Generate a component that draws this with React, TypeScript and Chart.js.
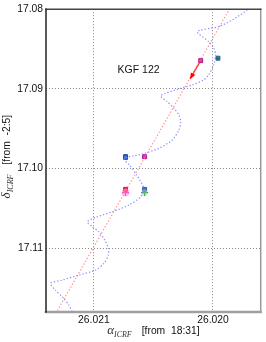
import React, { useEffect, useRef } from 'react';
import { Chart, registerables } from 'chart.js';

Chart.register(...registerables);

// Axis ranges and ticks
const X_TICKS = [26.021, 26.02];
const Y_TICKS = [17.08, 17.09, 17.1, 17.11];
const X_MIN = 26.019599;
const X_MAX = 26.021402;
const Y_MIN = 17.08;
const Y_MAX = 17.118;

// Parallax + proper motion path (blue dotted)
const PATH_RA = [
  26.019675, 26.019711, 26.019837, 26.019952, 26.020131, 26.020036, 26.019994, 26.019977,
  26.019994, 26.020036, 26.020078, 26.020173, 26.020288, 26.020398, 26.02044, 26.020383,
  26.020328, 26.020286, 26.020271, 26.020286, 26.020341, 26.020454, 26.020593, 26.020719,
  26.020748, 26.0207, 26.020641, 26.020582, 26.020608, 26.020706, 26.020845, 26.020986,
  26.021055, 26.021013, 26.020958, 26.020908, 26.020879, 26.020879, 26.020916, 26.020986,
  26.021126, 26.021266, 26.021364, 26.021322, 26.021252, 26.02121, 26.021182, 26.021162,
];
const PATH_DEC = [
  17.07946, 17.08009, 17.08134, 17.08219, 17.08281, 17.08407, 17.08486, 17.08574,
  17.087, 17.08825, 17.08888, 17.08951, 17.09001, 17.09055, 17.09089, 17.09161,
  17.09243, 17.09328, 17.09412, 17.09516, 17.09642, 17.09746, 17.09817, 17.09859,
  17.0988, 17.09956, 17.10081, 17.10245, 17.10354, 17.10458, 17.10542, 17.10613,
  17.10668, 17.10731, 17.10793, 17.10898, 17.11002, 17.11086, 17.1119, 17.11274,
  17.11337, 17.114, 17.11441, 17.11526, 17.1163, 17.11714, 17.11798, 17.11877,
];

// Proper motion line (red dotted)
const MOTION_RA = [26.019817, 26.021352];
const MOTION_DEC = [17.07883, 17.11902];

// Observed positions
const MAG_SQ_RA = [26.020103, 26.020574];
const MAG_SQ_DEC = [17.08646, 17.09851];
const GREEN_SQ_RA = [26.019958, 26.020734];
const GREEN_SQ_DEC = [17.08615, 17.09849];
const BLUE_SQ_RA = [26.020734, 26.020574];
const BLUE_SQ_DEC = [17.09861, 17.10261];
const RED_SQ_RA = [26.020734];
const RED_SQ_DEC = [17.10261];
const MAG_CROSS_RA = [26.020734];
const MAG_CROSS_DEC = [17.10301];
const GREEN_CROSS_RA = [26.020574];
const GREEN_CROSS_DEC = [17.10301];

// Arrow (solid red)
const ARROW_RA = [26.020103, 26.020192];
const ARROW_DEC = [17.08646, 17.08875];

// Annotation
const LABEL_TEXT = 'KGF 122';
const LABEL_RA = 26.020801;
const LABEL_DEC = 17.08763;

const X_SYMBOL = 'α';
const Y_SYMBOL = 'δ';
const SUB = 'ICRF';
const X_FROM = '[from  18:31]';
const Y_FROM = '[from  -2:5]';

const SANS = '"Liberation Sans", Arial, Helvetica, sans-serif';
const SERIF = '"Liberation Serif", "DejaVu Serif", serif';

const pts = (xs: number[], ys: number[]) => xs.map((x, i) => ({ x, y: ys[i] }));

const drawTitle = (ctx: CanvasRenderingContext2D, sym: string, from: string) => {
  // draws at origin, centered horizontally, baseline at 0
  ctx.font = `italic 13px ${SERIF}`;
  const wSym = ctx.measureText(sym).width;
  ctx.font = `italic 8px ${SERIF}`;
  const wSub = ctx.measureText(SUB).width;
  ctx.font = `10.3px ${SANS}`;
  const wFrom = ctx.measureText(from).width;
  const gap = 10;
  const total = wSym + wSub + gap + wFrom;
  let x = -total / 2;
  ctx.fillStyle = '#222';
  ctx.textAlign = 'left';
  ctx.textBaseline = 'alphabetic';
  ctx.font = `italic 13px ${SERIF}`;
  ctx.fillStyle = '#333';
  ctx.fillText(sym, x, 0);
  x += wSym;
  ctx.font = `italic 8px ${SERIF}`;
  ctx.fillText(SUB, x, 3);
  x += wSub + gap;
  ctx.font = `10.3px ${SANS}`;
  ctx.fillStyle = '#111';
  ctx.fillText(from, x, 0);
};

const decorPlugin = {
  id: 'decor',
  afterDatasetsDraw(chart: any) {
    const { ctx, scales } = chart;
    const xs = scales.x;
    const ys = scales.y;
    // arrowhead
    const x0 = xs.getPixelForValue(ARROW_RA[0]);
    const y0 = ys.getPixelForValue(ARROW_DEC[0]);
    const x1 = xs.getPixelForValue(ARROW_RA[1]);
    const y1 = ys.getPixelForValue(ARROW_DEC[1]);
    const ang = Math.atan2(y1 - y0, x1 - x0);
    const L = 6;
    const W = 2.6;
    ctx.save();
    ctx.fillStyle = '#ff0000';
    ctx.beginPath();
    ctx.moveTo(x1, y1);
    ctx.lineTo(x1 - L * Math.cos(ang) + W * Math.sin(ang), y1 - L * Math.sin(ang) - W * Math.cos(ang));
    ctx.lineTo(x1 - L * Math.cos(ang) - W * Math.sin(ang), y1 - L * Math.sin(ang) + W * Math.cos(ang));
    ctx.closePath();
    ctx.fill();
    // label
    ctx.fillStyle = '#111';
    ctx.font = `10.5px ${SANS}`;
    ctx.textAlign = 'left';
    ctx.textBaseline = 'middle';
    ctx.fillText(LABEL_TEXT, xs.getPixelForValue(LABEL_RA), ys.getPixelForValue(LABEL_DEC));
    ctx.restore();
  },
  afterDraw(chart: any) {
    const { ctx, chartArea: a } = chart;
    ctx.save();
    // frame
    ctx.lineCap = 'square';
    ctx.strokeStyle = '#999';
    ctx.lineWidth = 1.5;
    ctx.beginPath();
    ctx.moveTo(a.right, a.top);
    ctx.lineTo(a.right, a.bottom);
    ctx.stroke();
    ctx.strokeStyle = '#a0a0a0';
    ctx.lineWidth = 2.5;
    ctx.beginPath();
    ctx.moveTo(a.left, a.bottom);
    ctx.lineTo(a.right, a.bottom);
    ctx.stroke();
    ctx.strokeStyle = '#444';
    ctx.lineWidth = 1.5;
    ctx.beginPath();
    ctx.moveTo(a.left, a.top);
    ctx.lineTo(a.right, a.top);
    ctx.stroke();
    ctx.strokeStyle = '#222';
    ctx.beginPath();
    ctx.moveTo(a.left, a.top);
    ctx.lineTo(a.left, a.bottom);
    ctx.stroke();
    // axis titles
    ctx.save();
    ctx.translate((a.left + a.right) / 2, a.bottom + 22);
    drawTitle(ctx, X_SYMBOL, X_FROM);
    ctx.restore();
    ctx.save();
    ctx.translate(10, (a.top + a.bottom) / 2 - 4);
    ctx.rotate(-Math.PI / 2);
    drawTitle(ctx, Y_SYMBOL, Y_FROM);
    ctx.restore();
    ctx.restore();
  },
};

export default function App() {
  const ref = useRef<HTMLCanvasElement | null>(null);
  useEffect(() => {
    if (!ref.current) return;
    const sq = (xs: number[], ys: number[], fill: string, border: string, r = 2.8) => ({
      type: 'scatter' as const,
      data: pts(xs, ys),
      pointStyle: 'rect',
      pointRadius: r,
      backgroundColor: fill,
      borderColor: border,
      borderWidth: 1,
      showLine: false,
    });
    const chart = new Chart(ref.current, {
      type: 'scatter',
      data: {
        datasets: [
          {
            data: pts(PATH_RA, PATH_DEC),
            showLine: true,
            borderColor: 'rgba(120,120,255,0.85)',
            borderWidth: 1.2,
            borderDash: [1.3, 2],
            pointRadius: 0,
            tension: 0.25,
          },
          {
            data: pts(MOTION_RA, MOTION_DEC),
            showLine: true,
            borderColor: 'rgba(255,120,120,0.85)',
            borderWidth: 1.2,
            borderDash: [1.3, 2],
            pointRadius: 0,
          },
          {
            data: pts(ARROW_RA, ARROW_DEC),
            showLine: true,
            borderColor: '#ff2020',
            borderWidth: 1.2,
            pointRadius: 0,
          },
          {
            data: pts(MAG_CROSS_RA, MAG_CROSS_DEC),
            pointStyle: 'circle',
            pointRadius: 4,
            backgroundColor: 'rgba(255,150,230,0.55)',
            borderWidth: 0,
          },
          {
            data: pts(GREEN_CROSS_RA, GREEN_CROSS_DEC),
            pointStyle: 'rect',
            pointRadius: 4,
            backgroundColor: 'rgba(150,220,150,0.5)',
            borderWidth: 0,
          },
          sq(BLUE_SQ_RA, BLUE_SQ_DEC, '#5070e0', '#3050c0'),
          sq(GREEN_SQ_RA, GREEN_SQ_DEC, '#208050', '#3060b0'),
          sq(MAG_SQ_RA, MAG_SQ_DEC, '#e040c0', '#b01090'),
          sq(RED_SQ_RA, RED_SQ_DEC, '#ff2050', '#d01040'),
          {
            data: pts(MAG_CROSS_RA, MAG_CROSS_DEC),
            pointStyle: 'cross',
            pointRadius: 3.5,
            borderColor: '#d010c0',
            borderWidth: 1.3,
          },
          {
            data: pts(GREEN_CROSS_RA, GREEN_CROSS_DEC),
            pointStyle: 'cross',
            pointRadius: 3.5,
            borderColor: '#209040',
            borderWidth: 1.3,
          },
        ] as any,
      },
      options: {
        animation: false,
        responsive: false,
        events: [],
        layout: { padding: { top: 9, right: 5, left: 0, bottom: 0 } },
        plugins: { legend: { display: false }, tooltip: { enabled: false } },
        scales: {
          x: {
            type: 'linear',
            reverse: true,
            min: X_MIN,
            max: X_MAX,
            afterBuildTicks: (s: any) => {
              s.ticks = X_TICKS.map((v) => ({ value: v }));
            },
            afterFit: (s: any) => {
              s.height = 30;
            },
            ticks: {
              callback: (v: any) => Number(v).toFixed(3),
              font: { family: SANS, size: 10.3 },
              color: '#111',
              padding: 2,
              maxRotation: 0,
              autoSkip: false,
            },
            grid: { color: '#888', lineWidth: 1, drawTicks: false },
            border: { display: false, dash: [1, 2] },
          },
          y: {
            type: 'linear',
            reverse: true,
            min: Y_MIN,
            max: Y_MAX,
            afterBuildTicks: (s: any) => {
              s.ticks = Y_TICKS.map((v) => ({ value: v }));
            },
            afterFit: (s: any) => {
              s.width = 46;
            },
            ticks: {
              callback: (v: any) => Number(v).toFixed(2),
              font: { family: SANS, size: 10.3 },
              color: '#111',
              padding: 3,
              autoSkip: false,
            },
            grid: { color: '#888', lineWidth: 1, drawTicks: false },
            border: { display: false, dash: [1, 2] },
          },
        },
      } as any,
      plugins: [decorPlugin],
    });
    return () => chart.destroy();
  }, []);
  return (
    <div style={{ position: 'fixed', left: 0, top: 0, width: 266, height: 342, background: '#fff' }}>
      <canvas ref={ref} width={266} height={342} style={{ width: 266, height: 342, display: 'block' }} />
    </div>
  );
}
